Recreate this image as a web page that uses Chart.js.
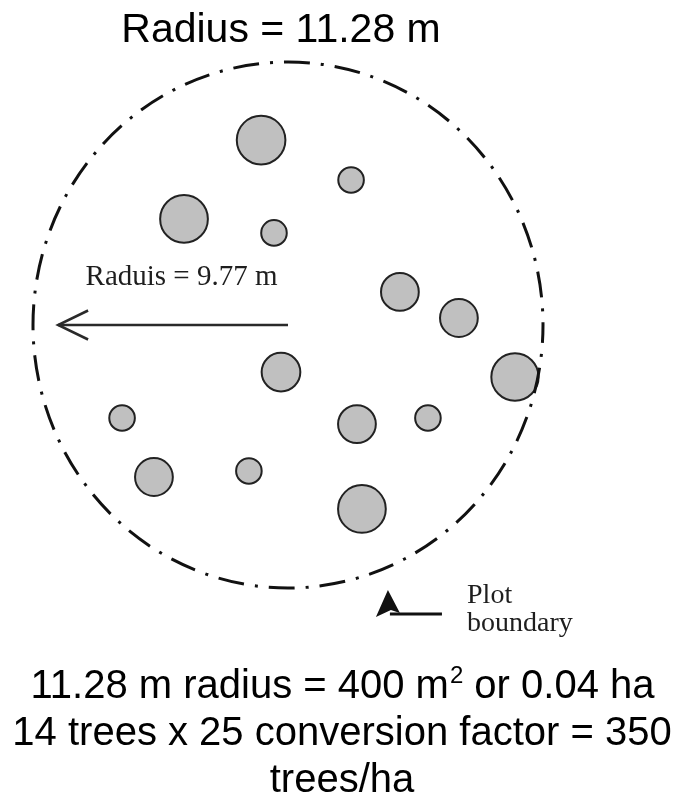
<!DOCTYPE html>
<html>
<head>
<meta charset="utf-8">
<script src="https://cdn.jsdelivr.net/npm/chart.js@4.4.0/dist/chart.umd.min.js"></script>
<style>
  html, body { margin: 0; padding: 0; background: #fff; }
  canvas { display: block; }
</style>
</head>
<body>
<canvas id="plotC" width="686" height="794"></canvas>
<script>
// plot in metres, centre of the plot at (0, 0)
const plotRadius = 11.28;
const treeX = [-1.19, 2.79, -4.60, -0.62, 4.95, 7.56, -0.31, 10.04, -7.34, 3.05, 6.19, -5.93, -1.73, 3.27];
const treeY = [7.93, 6.22, 4.55, 3.95, 1.42, 0.30, -2.02, -2.23, -3.99, -4.25, -3.99, -6.52, -6.26, -7.89];
const crownR = [1.12, 0.61, 1.10, 0.61, 0.88, 0.88, 0.90, 1.09, 0.61, 0.88, 0.61, 0.88, 0.61, 1.10];

const titleText = 'Radius = 11.28 m';
const innerLabel = 'Raduis = 9.77 m';
const innerArrowEnd = -10.17;
const boundaryLabel = ['Plot', 'boundary'];
const footLines = ['11.28 m radius = 400 m', '2', ' or 0.04 ha', '14 trees x 25 conversion factor = 350', 'trees/ha'];

const annotate = {
  id: 'annotate',
  afterDatasetsDraw(chart) {
    const { ctx, scales: { x, y } } = chart;
    const px = v => x.getPixelForValue(v), py = v => y.getPixelForValue(v);
    const cx = px(0), cy = py(0);

    // plot boundary (dash-dot)
    ctx.save();
    ctx.beginPath();
    ctx.ellipse(cx, cy, px(plotRadius) - cx, cy - py(plotRadius), 0, 0, 2 * Math.PI);
    ctx.setLineDash([26, 11, 3, 11]); ctx.lineDashOffset = 8;
    ctx.strokeStyle = '#111'; ctx.lineWidth = 3; ctx.stroke();
    ctx.restore();

    // radius arrow
    ctx.save();
    ctx.strokeStyle = '#2a2a2a'; ctx.lineWidth = 2.5;
    const tipX = px(innerArrowEnd);
    ctx.beginPath(); ctx.moveTo(cx, cy); ctx.lineTo(tipX, cy); ctx.stroke();
    ctx.beginPath();
    ctx.moveTo(tipX + 30, cy - 14.5); ctx.lineTo(tipX, cy); ctx.lineTo(tipX + 30, cy + 14.5);
    ctx.stroke();
    ctx.font = '29px "Liberation Serif", "Times New Roman", serif';
    ctx.fillStyle = '#1e1e1e'; ctx.textAlign = 'center'; ctx.textBaseline = 'alphabetic';
    ctx.fillText(innerLabel, px(-4.71), py(1.72));
    ctx.restore();

    // plot boundary pointer
    ctx.save();
    const ax = px(4.42), ay = py(-11.37);
    ctx.fillStyle = '#111';
    ctx.beginPath();
    ctx.moveTo(ax, ay); ctx.lineTo(ax + 12, ay + 23); ctx.lineTo(ax + 3, ay + 20); ctx.lineTo(ax - 12, ay + 27);
    ctx.closePath(); ctx.fill();
    ctx.strokeStyle = '#111'; ctx.lineWidth = 3;
    ctx.beginPath(); ctx.moveTo(ax + 2, ay + 24); ctx.lineTo(px(6.81), ay + 24); ctx.stroke();
    ctx.font = '28px "Liberation Serif", "Times New Roman", serif';
    ctx.fillStyle = '#1e1e1e'; ctx.textAlign = 'left';
    ctx.fillText(boundaryLabel[0], px(7.92), py(-11.92));
    ctx.fillText(boundaryLabel[1], px(7.92), py(-13.12));
    ctx.restore();
  },
  afterDraw(chart) {
    const ctx = chart.ctx;
    ctx.save();
    ctx.fillStyle = '#000'; ctx.textBaseline = 'alphabetic';
    ctx.font = '41px "Liberation Sans", Arial, sans-serif';
    ctx.textAlign = 'center';
    ctx.fillText(titleText, 281, 42);

    // first footer line with superscript
    const big = '40px "Liberation Sans", Arial, sans-serif', small = '24px "Liberation Sans", Arial, sans-serif';
    ctx.textAlign = 'left';
    ctx.font = big; const w1 = ctx.measureText(footLines[0]).width, w3 = ctx.measureText(footLines[2]).width;
    ctx.font = small; const w2 = ctx.measureText(footLines[1]).width;
    let x0 = 342 - (w1 + w2 + w3) / 2;
    ctx.font = big; ctx.fillText(footLines[0], x0, 698);
    ctx.font = small; ctx.fillText(footLines[1], x0 + w1 + 1, 683);
    ctx.font = big; ctx.fillText(footLines[2], x0 + w1 + w2 + 1, 698);
    ctx.textAlign = 'center';
    ctx.fillText(footLines[3], 342, 745);
    ctx.fillText(footLines[4], 342, 792);
    ctx.restore();
  }
};

new Chart(document.getElementById('plotC'), {
  type: 'scatter',
  data: {
    datasets: [{
      label: 'Trees',
      data: treeX.map((v, i) => ({ x: v, y: treeY[i] })),
      backgroundColor: '#c0c0c0',
      borderColor: '#222',
      borderWidth: 2,
      pointStyle: 'circle',
      pointRadius: c => {
        if (c.dataIndex === undefined) return 3;
        const sx = c.chart.scales.x;
        return Math.abs(sx.getPixelForValue(crownR[c.dataIndex]) - sx.getPixelForValue(0)) - 1;
      },
      clip: false,
    }],
  },
  options: {
    responsive: false,
    animation: false,
    events: [],
    layout: { padding: { left: 33, right: 143, top: 62, bottom: 206 } },
    plugins: { legend: { display: false }, tooltip: { enabled: false }, title: { display: false } },
    scales: {
      x: { type: 'linear', min: -plotRadius, max: plotRadius, display: false },
      y: { type: 'linear', min: -plotRadius, max: plotRadius, display: false },
    },
  },
  plugins: [annotate],
});
</script>
</body>
</html>
